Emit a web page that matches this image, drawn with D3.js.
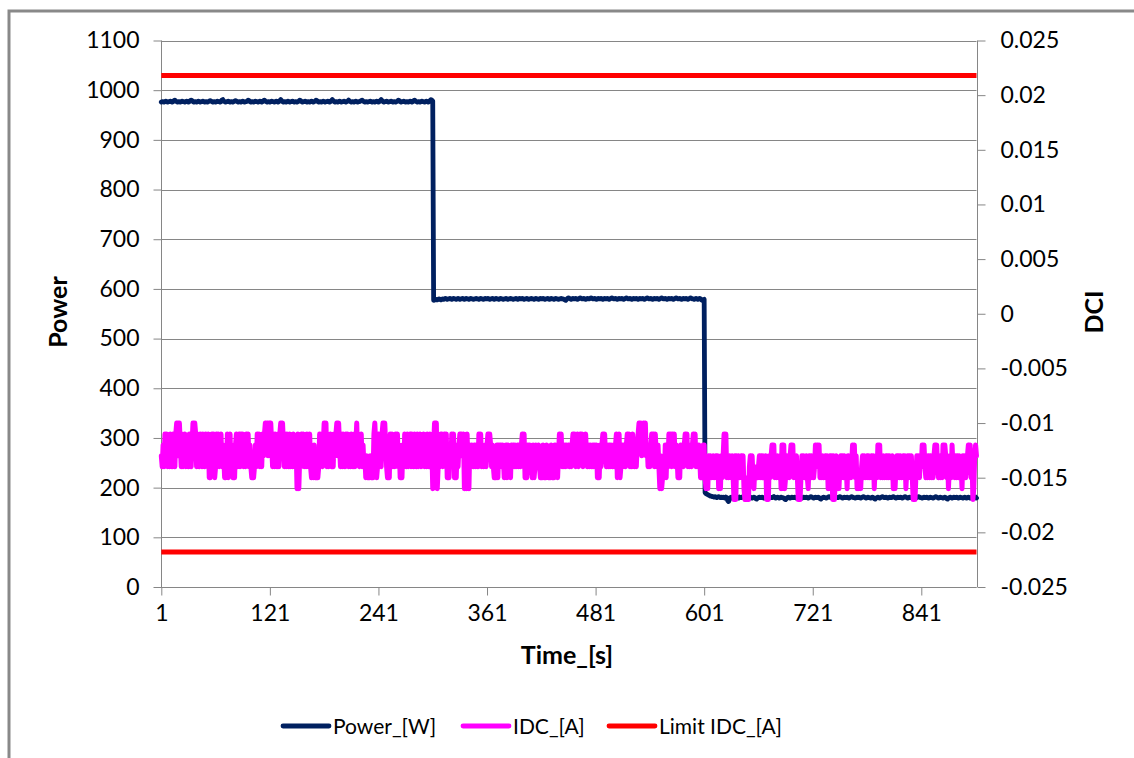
<!DOCTYPE html>
<html><head><meta charset="utf-8">
<script src="https://cdn.jsdelivr.net/npm/d3@7"></script>
<style>
body{margin:0;background:#fff}
svg{display:block}
text{font-family:Lato,"Open Sans",sans-serif;fill:#000}
</style>
</head><body>
<svg id="chart" width="1134" height="758"></svg>
<script>
// ---------- DATA ----------
const xTickLabels = [1,121,241,361,481,601,721,841];
const leftTicks = [0,100,200,300,400,500,600,700,800,900,1000,1100];
const rightTicks = [-0.025,-0.02,-0.015,-0.01,-0.005,0,0.005,0.01,0.015,0.02,0.025];
const limitIDC = [0.0218,-0.0218];
const seriesNames = ["Power_[W]","IDC_[A]","Limit IDC_[A]"];
const seriesColors = ["#002060","#FF00FF","#FF0000"];

// Power_[W], one value per second, t = 1..902
const power = [
976,977,977,976,977,978,977,976,977,977,
978,977,976,977,979,980,978,977,976,977,
977,976,977,978,977,977,976,977,978,977,
976,977,979,980,979,977,976,977,977,976,
977,978,977,976,977,977,978,977,976,977,
977,976,977,978,979,978,977,976,977,977,
976,977,978,977,977,976,977,980,981,978,
977,976,977,977,978,977,976,977,977,976,
977,978,979,978,977,976,977,977,976,977,
978,977,976,977,977,978,980,979,977,976,
977,977,976,977,978,977,977,976,977,978,
977,976,977,979,980,978,977,976,977,977,
976,977,978,977,977,976,977,978,977,976,
977,979,981,979,977,976,977,977,976,977,
978,977,976,977,977,978,977,976,977,977,
976,977,978,980,979,977,976,977,977,978,
977,976,977,977,976,977,978,977,976,977,
978,980,979,977,976,977,977,976,977,978,
977,976,977,977,978,977,976,977,979,981,
979,977,976,977,977,976,977,978,977,976,
977,977,978,977,976,977,978,980,978,977,
976,977,977,976,977,978,977,976,977,977,
978,979,980,978,977,976,977,977,976,977,
977,978,977,976,977,977,976,977,978,977,
976,977,979,981,979,977,976,977,977,978,
977,976,977,977,978,977,976,977,977,976,
977,978,980,979,977,976,977,977,978,977,
976,977,977,976,977,978,977,976,977,979,
980,978,977,976,977,977,976,977,978,977,
977,976,977,978,977,976,977,979,981,980,
978,
577,578,578,579,578,579,580,579,578,579,
580,579,580,581,580,579,580,580,581,580,
579,580,581,580,580,579,580,581,580,579,
580,580,581,580,579,580,581,580,580,579,
580,581,580,580,579,580,580,581,580,580,
579,580,581,580,580,579,580,581,580,580,
581,580,579,580,580,581,580,579,580,581,
580,580,579,580,581,580,580,579,580,580,
581,580,579,580,580,581,580,580,579,580,
580,581,580,579,580,581,580,580,581,580,
579,580,580,581,580,579,580,580,581,580,
580,579,580,581,580,580,579,580,581,580,
580,581,580,579,580,580,581,580,579,580,
581,580,580,579,580,581,580,580,579,580,
580,581,580,580,579,578,577,579,581,582,
581,580,579,580,581,580,580,581,580,579,
580,581,582,581,580,580,581,580,579,580,
581,580,580,581,582,581,580,580,581,580,
579,580,581,580,580,581,580,579,580,581,
580,580,581,580,579,580,581,582,581,580,
580,581,580,579,580,581,580,580,581,580,
579,580,581,582,581,580,580,581,580,579,
580,581,580,580,581,580,579,580,581,580,
580,581,580,579,580,581,582,581,580,580,
581,580,579,580,581,580,580,581,580,579,
580,581,582,581,580,580,581,580,579,580,
581,580,580,581,580,579,580,581,582,581,
580,580,581,580,579,580,581,580,580,581,
580,579,580,581,582,581,580,580,579,580,
581,580,579,580,581,580,578,577,578,579,
190,188,187,186,185,184,183,183,182,182,
181,182,181,180,181,182,181,180,181,180,
181,180,179,181,180,174,172,176,180,181,
180,181,180,179,180,181,180,179,181,180,
180,181,182,180,179,180,181,180,180,179,
181,180,179,180,181,180,178,177,179,180,
181,180,180,181,180,179,180,181,180,180,
179,180,181,180,180,181,182,180,179,180,
181,180,179,180,181,180,180,179,177,176,
178,180,181,180,179,180,181,180,180,181,
180,179,180,181,182,181,180,179,180,181,
180,180,181,180,179,180,181,182,181,180,
179,180,181,180,180,181,180,178,177,179,
180,181,180,180,179,180,181,182,181,180,
180,181,180,179,180,181,180,180,181,182,
181,180,179,180,181,180,180,181,180,179,
180,181,182,181,180,180,179,180,181,180,
181,180,179,180,181,182,181,180,179,180,
181,180,180,179,180,181,180,178,177,179,
180,181,180,179,180,181,182,181,180,180,
181,180,179,180,181,180,180,181,182,181,
180,179,180,181,180,180,181,180,179,180,
181,182,181,180,179,180,181,180,180,179,
180,181,180,179,180,181,182,181,180,180,
179,180,181,180,180,181,180,179,180,181,
180,180,179,180,181,182,181,180,179,180,
181,180,180,179,180,181,180,178,177,179,
180,181,180,179,180,181,180,180,181,180,
179,180,181,180,180,179,180,181,180,179,
180,181,180,179,180,181,180,179,180,181,
179
];

// IDC_[A] in milliamperes, one value per second, t = 1..902
const idcMilliamps = [
-13,-14,-12,-14,-11,-13,-11,-14,-12,-14,
-11,-13,-14,-11,-13,-14,-11,-10,-13,-10,
-10,-12,-14,-11,-14,-12,-11,-14,-12,-13,
-14,-11,-13,-14,-12,-10,-13,-10,-11,-14,
-11,-13,-14,-11,-12,-14,-11,-13,-14,-11,
-12,-14,-11,-15,-15,-14,-11,-13,-11,-15,
-14,-11,-13,-11,-14,-12,-11,-14,-12,-13,
-15,-15,-14,-11,-15,-12,-11,-14,-12,-15,
-14,-15,-12,-11,-14,-13,-11,-14,-11,-13,
-11,-14,-12,-14,-11,-13,-11,-14,-12,-14,
-15,-15,-15,-14,-12,-14,-11,-13,-11,-14,
-12,-14,-11,-13,-11,-10,-12,-10,-13,-10,
-11,-10,-12,-14,-11,-14,-11,-13,-14,-11,
-14,-11,-10,-13,-10,-12,-14,-11,-14,-11,
-13,-14,-11,-14,-12,-14,-11,-13,-14,-12,
-16,-11,-16,-13,-14,-11,-13,-11,-14,-12,
-14,-11,-13,-14,-11,-14,-15,-13,-15,-12,
-15,-14,-15,-15,-14,-11,-13,-11,-14,-12,
-10,-12,-10,-14,-11,-14,-12,-11,-14,-13,
-14,-11,-13,-11,-10,-13,-10,-12,-14,-11,
-14,-11,-13,-14,-11,-13,-11,-14,-12,-14,
-11,-13,-14,-11,-14,-12,-10,-13,-11,-14,
-12,-11,-14,-12,-14,-13,-15,-13,-15,-14,
-15,-13,-15,-14,-15,-11,-10,-12,-15,-14,
-11,-13,-11,-14,-11,-10,-13,-10,-12,-14,
-15,-14,-15,-11,-13,-11,-14,-12,-14,-11,
-13,-11,-14,-12,-15,-14,-15,-12,-14,-11,
-13,-14,-11,-14,-12,-11,-14,-11,-13,-14,
-11,-13,-14,-11,-14,-12,-11,-14,-12,-13,
-11,-14,-12,-14,-11,-13,-14,-11,-13,-12,
-16,-12,-10,-11,-10,-16,-14,-12,-14,-11,
-11,-14,-12,-11,-13,-11,-15,-14,-15,-12,
-14,-11,-13,-11,-15,-14,-15,-12,-14,-12,
-11,-13,-11,-12,-11,-16,-13,-16,-11,-14,
-16,-12,-14,-12,-13,-14,-12,-14,-12,-13,
-14,-11,-13,-11,-14,-12,-14,-13,-12,-14,
-12,-11,-13,-11,-12,-14,-12,-14,-15,-14,
-15,-12,-15,-12,-14,-12,-14,-12,-13,-15,
-14,-12,-15,-12,-14,-13,-15,-12,-14,-12,
-14,-12,-14,-13,-12,-14,-12,-14,-12,-11,
-13,-11,-15,-14,-15,-12,-14,-12,-13,-14,
-15,-12,-15,-14,-12,-14,-13,-12,-14,-15,
-14,-15,-12,-15,-14,-15,-12,-14,-15,-14,
-15,-12,-15,-14,-15,-12,-14,-12,-15,-13,
-11,-13,-11,-14,-12,-14,-12,-14,-12,-13,
-12,-14,-12,-14,-12,-11,-13,-11,-14,-12,
-11,-14,-12,-11,-13,-11,-14,-12,-13,-11,
-13,-14,-12,-14,-12,-13,-14,-12,-14,-12,
-14,-12,-15,-14,-15,-12,-14,-12,-11,-13,
-11,-13,-14,-12,-14,-12,-14,-12,-13,-14,
-12,-14,-12,-11,-15,-13,-11,-15,-14,-12,
-14,-12,-13,-14,-12,-11,-13,-11,-14,-12,
-14,-11,-13,-14,-12,-14,-12,-11,-10,-11,
-10,-13,-11,-10,-11,-10,-13,-12,-14,-12,
-14,-12,-11,-13,-11,-14,-11,-13,-14,-12,
-14,-16,-13,-16,-15,-14,-15,-12,-15,-12,
-14,-11,-13,-11,-14,-11,-13,-11,-14,-12,
-13,-15,-14,-15,-12,-14,-12,-14,-12,-11,
-13,-11,-14,-12,-14,-12,-14,-12,-11,-13,
-11,-14,-12,-14,-12,-13,-15,-14,-15,-12,
-12,-15,-16,-15,-16,-13,-15,-13,-15,-14,
-13,-15,-14,-13,-15,-13,-16,-15,-16,-13,
-15,-13,-11,-14,-11,-15,-13,-15,-13,-14,
-15,-13,-15,-17,-13,-17,-13,-15,-13,-15,
-14,-13,-15,-13,-16,-17,-15,-17,-16,-17,
-14,-13,-15,-13,-15,-16,-14,-15,-14,-15,
-14,-13,-15,-13,-15,-13,-15,-14,-13,-17,
-15,-17,-13,-15,-13,-12,-14,-12,-15,-13,
-15,-13,-15,-14,-13,-16,-12,-14,-12,-16,
-15,-13,-15,-13,-15,-13,-12,-14,-12,-15,
-13,-15,-13,-15,-17,-14,-17,-15,-13,-15,
-13,-15,-14,-13,-15,-16,-13,-15,-13,-15,
-13,-15,-14,-12,-14,-12,-14,-12,-15,-13,
-15,-13,-15,-14,-13,-15,-13,-16,-14,-13,
-15,-13,-17,-13,-17,-15,-13,-16,-15,-16,
-14,-13,-15,-13,-15,-13,-15,-14,-16,-13,
-15,-13,-15,-14,-12,-14,-12,-15,-13,-16,
-15,-16,-15,-16,-14,-13,-15,-13,-15,-14,
-13,-15,-13,-15,-14,-13,-15,-13,-16,-14,
-13,-15,-12,-14,-12,-15,-13,-15,-13,-15,
-14,-13,-15,-13,-15,-13,-15,-14,-13,-16,
-15,-16,-14,-13,-15,-13,-15,-13,-15,-14,
-13,-15,-13,-16,-14,-13,-15,-13,-15,-13,
-15,-17,-14,-17,-15,-13,-15,-13,-15,-13,
-14,-12,-14,-12,-14,-15,-13,-15,-13,-15,
-13,-15,-13,-15,-13,-12,-14,-12,-14,-15,
-13,-15,-13,-15,-12,-14,-12,-13,-15,-13,
-16,-14,-13,-15,-12,-14,-13,-15,-13,-15,
-13,-15,-13,-15,-14,-16,-13,-15,-13,-15,
-14,-13,-12,-14,-12,-15,-13,-17,-16,-13,
-12,-13
];

// ---------- CHART ----------
const svg = d3.select("#chart");
const plot = {left:161.3, right:976.5, top:40.5, bottom:587};
const grey = "#868686";

const x = d3.scaleLinear().domain([1, power.length]).range([plot.left, plot.right]);
const yL = d3.scaleLinear().domain([0,1100]).range([plot.bottom, plot.top]);
const yR = d3.scaleLinear().domain([-0.025,0.025]).range([plot.bottom, plot.top]);

// outer chart frame (extends past the window)
svg.append("rect").attr("x",9).attr("y",11).attr("width",1200).attr("height",800)
  .attr("fill","none").attr("stroke","#898989").attr("stroke-width",3);

// gridlines
svg.append("g").selectAll("line").data(leftTicks).join("line")
  .attr("x1",plot.left).attr("x2",plot.right)
  .attr("y1",d=>Math.round(yL(d))+0.5).attr("y2",d=>Math.round(yL(d))+0.5)
  .attr("stroke",grey).attr("stroke-width",1);

// left axis
const gL = svg.append("g").attr("transform",`translate(${Math.round(plot.left)+0.5},0)`);
gL.call(d3.axisLeft(yL).tickValues(leftTicks).tickSize(8).tickPadding(14).tickFormat(d3.format("d")));
// right axis
const gR = svg.append("g").attr("transform",`translate(${Math.round(plot.right)+0.5},0)`);
gR.call(d3.axisRight(yR).tickValues(rightTicks).tickSize(8).tickPadding(15)
  .tickFormat(d=>String(+d.toFixed(3))));
// bottom axis
const gB = svg.append("g").attr("transform",`translate(0,${Math.round(plot.bottom)+0.5})`);
gB.call(d3.axisBottom(x).tickValues(xTickLabels).tickSize(8).tickPadding(9).tickFormat(d=>d));

[gL,gR,gB].forEach(g=>{
  g.selectAll("path.domain").attr("stroke",grey).attr("stroke-width",1);
  g.selectAll(".tick line").attr("stroke",grey).attr("stroke-width",1);
  g.selectAll(".tick text").attr("font-family","Lato").attr("font-size",23).attr("fill","#000");
});
gL.select("path.domain").attr("d",`M0,${plot.top}V${plot.bottom}`);
gR.select("path.domain").attr("d",`M0,${plot.top}V${plot.bottom}`);
gB.select("path.domain").attr("d",`M${plot.left},0H${plot.right}`);

// series
const linePower = d3.line().x((d,i)=>x(i+1)).y(d=>yL(d));
svg.append("path").datum(power).attr("d",linePower)
  .attr("fill","none").attr("stroke",seriesColors[0]).attr("stroke-width",4.8)
  .attr("stroke-linejoin","round").attr("stroke-linecap","round");

const lineIDC = d3.line().x((d,i)=>x(i+1)).y(d=>yR(d/1000));
svg.append("path").datum(idcMilliamps).attr("d",lineIDC)
  .attr("fill","none").attr("stroke",seriesColors[1]).attr("stroke-width",5)
  .attr("stroke-linejoin","round").attr("stroke-linecap","round");

svg.append("g").selectAll("line").data(limitIDC).join("line")
  .attr("x1",x(1)).attr("x2",x(power.length))
  .attr("y1",d=>yR(d)).attr("y2",d=>yR(d))
  .attr("stroke",seriesColors[2]).attr("stroke-width",4.8);

// axis titles
svg.append("text").attr("x",567).attr("y",664).attr("text-anchor","middle")
  .attr("font-weight","bold").attr("font-size",25).text("Time_[s]");
svg.append("text").attr("transform","translate(67,312) rotate(-90)").attr("text-anchor","middle")
  .attr("font-weight","bold").attr("font-size",25).text("Power");
svg.append("text").attr("transform","translate(1103,312) rotate(-90)").attr("text-anchor","middle")
  .attr("font-weight","bold").attr("font-size",25).text("DCI");

// legend
const legendX = [283,463,609];
const lg = svg.append("g").selectAll("g").data(seriesNames).join("g")
  .attr("transform",(d,i)=>`translate(${legendX[i]},726)`);
lg.append("line").attr("x1",0).attr("x2",46).attr("y1",0).attr("y2",0)
  .attr("stroke",(d,i)=>seriesColors[i]).attr("stroke-width",4.8).attr("stroke-linecap","round");
lg.append("text").attr("x",50).attr("y",8).attr("font-size",21).text(d=>d);
</script>
</body></html>
